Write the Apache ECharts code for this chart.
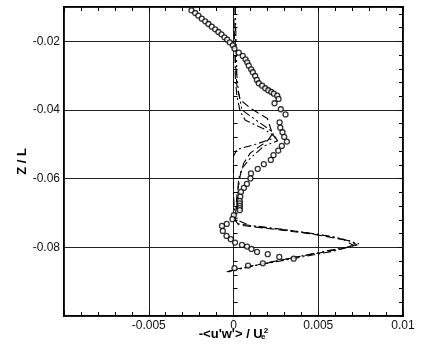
<!DOCTYPE html>
<html>
<head>
<meta charset="utf-8">
<script src="https://cdn.jsdelivr.net/npm/echarts@6/dist/echarts.min.js"></script>
<style>html,body{margin:0;padding:0;background:#fff}#c{width:423px;height:356px}</style>
</head>
<body>
<div id="c"></div>
<script>
// Measured profile: circles (x = -<u'w'>/Ue^2, y = Z/L)
const expX = [-0.00248,-0.00226,-0.00207,-0.00187,-0.00167,-0.00148,-0.00128,-0.00108,-0.00089,-0.00071,-0.00053,-0.00037,-0.00022,-0.00004,0.00006,0.00031,0.00055,0.00071,0.00081,0.00090,0.00104,0.00114,0.00128,0.00138,0.00149,0.00169,0.00187,0.00205,0.00223,0.00238,0.00258,0.00266,0.00242,0.00279,0.00307,0.00272,0.00276,0.00289,0.00299,0.00315,0.00285,0.00264,0.00236,0.00220,0.00179,0.00143,0.00103,0.00100,0.00079,0.00061,0.00044,0.00040,0.00037,0.00037,0.00037,0.00037,0.00037,0.00002,-0.00006,-0.00040,-0.00068,-0.00063,-0.00041,-0.00016,0.00009,0.00050,0.00080,0.00106,0.00139,0.00202,0.00270,0.00355,0.00173,0.00086,0.00006];
const expY = [-0.01096,-0.01175,-0.01253,-0.01341,-0.01416,-0.01495,-0.01574,-0.01649,-0.01728,-0.01795,-0.01882,-0.01952,-0.02028,-0.02115,-0.02214,-0.02330,-0.02426,-0.02523,-0.02610,-0.02709,-0.02814,-0.02901,-0.03009,-0.03125,-0.03221,-0.03291,-0.03367,-0.03425,-0.03475,-0.03524,-0.03582,-0.03678,-0.03803,-0.03978,-0.04130,-0.04362,-0.04514,-0.04648,-0.04785,-0.04921,-0.05047,-0.05183,-0.05317,-0.05454,-0.05579,-0.05716,-0.05847,-0.05993,-0.06153,-0.06269,-0.06386,-0.06523,-0.06648,-0.06720,-0.06793,-0.06860,-0.06918,-0.07064,-0.07181,-0.07317,-0.07376,-0.07521,-0.07667,-0.07763,-0.07862,-0.07929,-0.07978,-0.08045,-0.08133,-0.08199,-0.08278,-0.08330,-0.08467,-0.08531,-0.08607];

// Computed profiles (three line styles)
const dashX = [0.0000,0.0001,0.0002,0.0004,0.0010,0.0020,0.0023,0.0020,0.0010,0.0006,0.0004,0.0002,0.0001,0.0003,0.0020,0.0045,0.0065,0.0071,0.0060,0.0035,0.0015,0.0000,-0.0003];
const dashY = [-0.0100,-0.0250,-0.0330,-0.0370,-0.0395,-0.0425,-0.0470,-0.0490,-0.0525,-0.0555,-0.0590,-0.0650,-0.0720,-0.0735,-0.0745,-0.0760,-0.0778,-0.0795,-0.0808,-0.0830,-0.0850,-0.0865,-0.0872];

const dashDotX = [0.0001,0.0001,0.0002,0.0004,0.0007,0.0018,0.0025,0.0013,0.0002,0.0000,0.0000,0.0001,0.0003,0.0025,0.0050,0.0068,0.0073,0.0058,0.0033,0.0010,-0.0003];
const dashDotY = [-0.0100,-0.0300,-0.0360,-0.0405,-0.0430,-0.0455,-0.0480,-0.0500,-0.0515,-0.0535,-0.0650,-0.0722,-0.0732,-0.0745,-0.0762,-0.0780,-0.0793,-0.0812,-0.0835,-0.0855,-0.0870];

const dashDotDotX = [0.0001,0.0002,0.0003,0.0005,0.0012,0.0022,0.0026,0.0018,0.0010,0.0005,0.0003,0.0002,0.0002,0.0010,0.0035,0.0060,0.0074,0.0066,0.0040,0.0018,0.0001,-0.0004];
const dashDotDotY = [-0.0100,-0.0300,-0.0350,-0.0400,-0.0425,-0.0460,-0.0490,-0.0505,-0.0540,-0.0570,-0.0600,-0.0680,-0.0720,-0.0738,-0.0752,-0.0770,-0.0790,-0.0800,-0.0825,-0.0848,-0.0866,-0.0871];

const xTickHidden = [-0.01];
const yTickHidden = [-0.1, -0.01];

const zip = (a, b) => a.map((v, i) => [v, b[i]]);
const fmt = v => String(Number(v.toFixed(4)));
const font = 'Liberation Sans, Arial, sans-serif';

const chart = echarts.init(document.getElementById('c'), null, {renderer: 'canvas'});
const tickStyle = {color: '#000', width: 1};
chart.setOption({
  animation: false,
  backgroundColor: '#fff',
  grid: {left: 64, right: 20, top: 7, bottom: 40, show: true, borderColor: '#000', borderWidth: 2, backgroundColor: 'transparent'},
  xAxis: [
    {type: 'value', position: 'bottom', min: -0.01, max: 0.01, interval: 0.005,
     axisLine: {show: false},
     axisTick: {show: true, inside: true, length: 5, lineStyle: tickStyle},
     minorTick: {show: true, splitNumber: 5, length: 4, lineStyle: tickStyle},
     splitLine: {show: true, lineStyle: {color: '#222', width: 1}},
     axisLabel: {color: '#111', fontSize: 12, fontFamily: font, margin: 4,
       formatter: v => xTickHidden.some(h => Math.abs(h - v) < 1e-9) ? '' : fmt(v)},
     name: "-<u'w'> / U{e|e}{s|2}", nameLocation: 'middle', nameGap: 11, nameMoveOverlap: false,
     nameTextStyle: {fontSize: 13, fontWeight: 'bold', fontFamily: font, color: '#000',
       rich: {e: {fontSize: 8, fontWeight: 'bold', fontFamily: font, verticalAlign: 'bottom', width: 1, padding: [6,0,0,0]},
              s: {fontSize: 8, fontWeight: 'bold', fontFamily: font, verticalAlign: 'top', padding: [0,0,6,0]}}}},
    {type: 'value', position: 'top', min: -0.01, max: 0.01, interval: 0.005,
     axisLine: {show: false},
     axisTick: {show: true, inside: true, length: 5, lineStyle: tickStyle},
     minorTick: {show: true, splitNumber: 5, length: 4, lineStyle: tickStyle},
     splitLine: {show: false}, axisLabel: {show: false}}
  ],
  yAxis: [
    {type: 'value', position: 'left', min: -0.1, max: -0.01, interval: 0.02,
     axisLine: {show: false}, axisTick: {show: false},
     splitLine: {show: true, lineStyle: {color: '#222', width: 1}},
     axisLabel: {color: '#111', fontSize: 12, fontFamily: font, margin: 4,
       formatter: v => yTickHidden.some(h => Math.abs(h - v) < 1e-9) ? '' : fmt(v)},
     name: 'Z / L', nameLocation: 'middle', nameGap: 35, nameRotate: 90, nameMoveOverlap: false,
     nameTextStyle: {fontSize: 13, fontWeight: 'bold', fontFamily: font, color: '#000'}},
    {type: 'value', position: 'left', min: -0.1, max: -0.01, interval: 0.004,
     axisLine: {show: false}, axisTick: {show: true, inside: true, length: 4, lineStyle: tickStyle},
     splitLine: {show: false}, axisLabel: {show: false}},
    {type: 'value', position: 'right', min: -0.1, max: -0.01, interval: 0.004,
     axisLine: {show: false}, axisTick: {show: true, inside: true, length: 4, lineStyle: tickStyle},
     splitLine: {show: false}, axisLabel: {show: false}}
  ],
  series: [
    {type: 'line', data: zip(dashX, dashY), symbol: 'none', z: 3,
     lineStyle: {color: '#000', width: 1.1, type: [8, 4]}},
    {type: 'line', data: zip(dashDotX, dashDotY), symbol: 'none', z: 3,
     lineStyle: {color: '#000', width: 1.1, type: [8, 3, 2, 3]}},
    {type: 'line', data: zip(dashDotDotX, dashDotDotY), symbol: 'none', z: 3,
     lineStyle: {color: '#000', width: 1.1, type: [8, 3, 2, 3, 2, 3]}},
    {type: 'scatter', data: zip(expX, expY), symbol: 'circle', symbolSize: 5, z: 4,
     itemStyle: {color: '#fff', borderColor: '#000', borderWidth: 1.3}}
  ]
});
</script>
</body>
</html>
